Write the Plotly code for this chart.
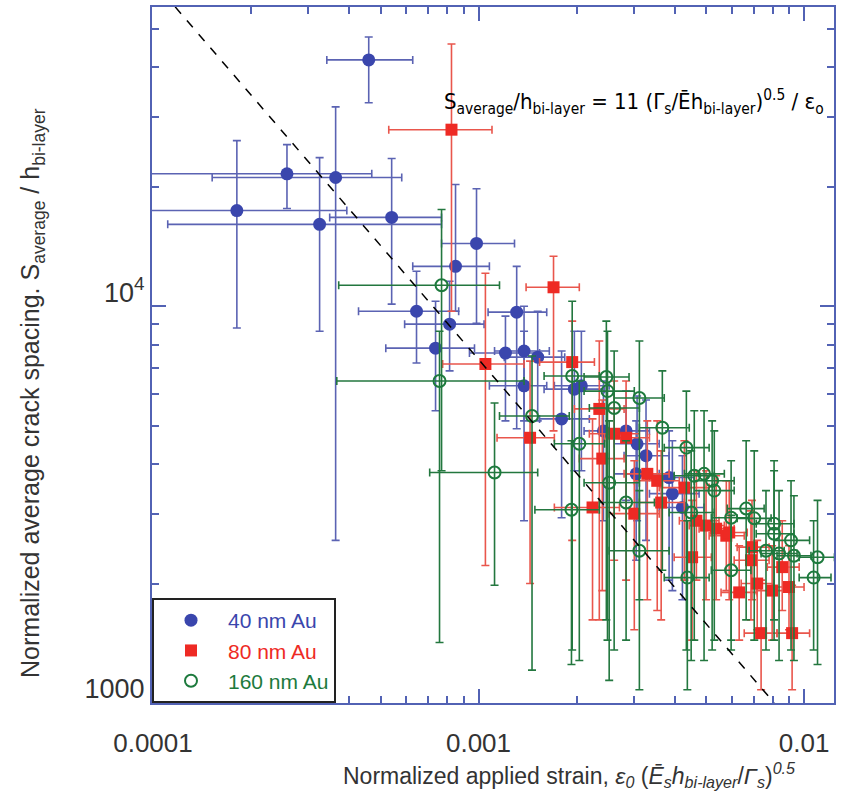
import plotly.graph_objects as go

# ---------------- data ----------------
# 40 nm Au
b_x   = [4.60e-4, 1.81e-4, 2.58e-4, 3.64e-4, 3.25e-4, 5.41e-4, 9.86e-4, 8.50e-4, 6.45e-4, 8.15e-4, 7.38e-4, 1.31e-3, 1.21e-3, 1.38e-3, 1.52e-3, 1.38e-3, 1.80e-3, 1.97e-3, 2.07e-3, 2.42e-3, 2.84e-3, 3.07e-3, 3.27e-3, 3.05e-3, 3.85e-3, 3.94e-3, 4.23e-3]
b_xlo = [3.42e-4, 0.9e-4, 0.9e-4, 1.52e-4, 1.11e-4, 3.49e-4, 7.70e-4, 6.28e-4, 4.28e-4, 5.93e-4, 5.19e-4, 1.07e-3, 9.38e-4, 1.12e-3, 1.20e-3, 1.08e-3, 1.54e-3, 1.59e-3, 1.71e-3, 2.11e-3, 2.44e-3, 2.61e-3, 2.80e-3, 2.61e-3, 3.35e-3, 3.35e-3, 3.59e-3]
b_xhi = [6.28e-4, 3.94e-4, 4.70e-4, 5.81e-4, 7.70e-4, 7.70e-4, 1.29e-3, 1.08e-3, 8.69e-4, 1.04e-3, 9.72e-4, 1.62e-3, 1.54e-3, 1.65e-3, 1.84e-3, 1.62e-3, 2.19e-3, 2.44e-3, 2.52e-3, 2.80e-3, 3.35e-3, 3.59e-3, 3.85e-3, 3.59e-3, 4.60e-3, 4.76e-3, 4.93e-3]
b_y   = [41750, 17420, 21560, 21100, 16080, 16740, 14390, 12600, 9710, 9010, 7840, 9660, 7620, 7710, 7440, 6300, 5200, 6180, 6300, 4850, 4850, 4500, 4200, 3780, 3700, 3370, 3110]
b_ylo = [32550, 8810, 17630, 2570, 8650, 10120, 9060, 9710, 7190, 6870, 5450, 4910, 5140, 5140, 5140, 2880, 2930, 3850, 3850, 2880, 3240, 2880, 2570, 2290, 2040, 1920, 1820]
b_yhi = [47680, 26130, 25530, 31800, 23680, 23560, 19770, 20270, 12250, 11560, 10290, 12600, 9440, 10000, 9710, 8650, 7710, 8650, 8650, 6480, 6110, 5940, 5800, 5140, 4850, 4580, 4200]

# 80 nm Au
r_x   = [8.26e-4, 1.70e-3, 1.05e-3, 1.94e-3, 1.44e-3, 2.35e-3, 2.61e-3, 2.84e-3, 2.40e-3, 3.30e-3, 3.54e-3, 4.29e-3, 3.64e-3, 3.01e-3, 2.24e-3, 4.67e-3, 5.00e-3, 5.37e-3, 5.77e-3, 5.89e-3, 4.53e-3, 6.92e-3, 6.87e-3, 8.57e-3, 6.32e-3, 7.18e-3, 7.98e-3, 8.99e-3, 7.38e-3, 9.19e-3]
r_xlo = [5.30e-4, 1.40e-3, 7.76e-4, 1.54e-3, 1.14e-3, 1.97e-3, 2.19e-3, 2.44e-3, 2.04e-3, 2.80e-3, 3.01e-3, 3.59e-3, 3.12e-3, 2.52e-3, 1.71e-3, 4.14e-3, 4.44e-3, 4.76e-3, 5.11e-3, 5.19e-3, 3.99e-3, 6.23e-3, 6.10e-3, 7.71e-3, 5.56e-3, 6.41e-3, 7.13e-3, 8.09e-3, 6.55e-3, 8.26e-3]
r_xhi = [1.10e-3, 2.04e-3, 1.38e-3, 2.27e-3, 1.71e-3, 2.80e-3, 3.12e-3, 3.35e-3, 2.80e-3, 3.85e-3, 4.14e-3, 5.11e-3, 4.29e-3, 3.59e-3, 2.71e-3, 5.48e-3, 5.69e-3, 6.10e-3, 6.55e-3, 6.69e-3, 5.19e-3, 7.81e-3, 7.81e-3, 9.66e-3, 7.18e-3, 8.09e-3, 8.99e-3, 1.00e-2, 8.26e-3, 1.04e-2]
r_y   = [27850, 11160, 7150, 7230, 4660, 5510, 4770, 4660, 4130, 3780, 3630, 3490, 3200, 3000, 3110, 2880, 2800, 2750, 2640, 2690, 2330, 2470, 2290, 2200, 1900, 2000, 1920, 1960, 1500, 1500]
r_ylo = [9710, 4850, 2220, 2570, 2000, 1620, 2290, 2040, 1920, 1820, 1710, 2040, 1620, 1530, 1620, 2040, 1820, 1820, 1920, 1820, 1440, 1820, 1620, 1710, 1440, 1530, 1440, 1530, 1080, 1080]
r_yhi = [45800, 13360, 12110, 9170, 7270, 8170, 6480, 6480, 5800, 5140, 5140, 4580, 4320, 4080, 5200, 3850, 3850, 3740, 3630, 3630, 3240, 3240, 3050, 2880, 2490, 2570, 2490, 2490, 2040, 1980]

# 160 nm Au
g_x   = [7.70e-4, 7.59e-4, 1.12e-3, 1.46e-3, 1.94e-3, 2.47e-3, 2.49e-3, 2.61e-3, 3.12e-3, 3.67e-3, 2.04e-3, 2.52e-3, 1.93e-3, 2.84e-3, 3.12e-3, 4.35e-3, 4.60e-3, 4.93e-3, 5.22e-3, 5.30e-3, 5.97e-3, 4.50e-3, 5.97e-3, 4.38e-3, 6.64e-3, 7.03e-3, 8.09e-3, 8.09e-3, 7.64e-3, 8.38e-3, 9.12e-3, 9.31e-3, 1.10e-2, 1.07e-2]
g_xlo = [3.72e-4, 3.67e-4, 7.08e-4, 1.16e-3, 1.59e-3, 2.11e-3, 2.11e-3, 2.19e-3, 2.61e-3, 3.12e-3, 1.71e-3, 2.11e-3, 1.49e-3, 2.35e-3, 2.52e-3, 3.72e-3, 3.99e-3, 4.29e-3, 4.60e-3, 4.60e-3, 5.19e-3, 3.85e-3, 5.19e-3, 3.72e-3, 5.81e-3, 6.23e-3, 7.13e-3, 7.13e-3, 6.78e-3, 7.38e-3, 8.09e-3, 8.26e-3, 9.66e-3, 9.66e-3]
g_xhi = [1.16e-3, 1.38e-3, 1.52e-3, 1.90e-3, 2.35e-3, 2.90e-3, 3.01e-3, 3.12e-3, 3.72e-3, 4.44e-3, 2.44e-3, 3.12e-3, 2.35e-3, 3.47e-3, 3.85e-3, 5.11e-3, 5.30e-3, 5.69e-3, 6.10e-3, 6.10e-3, 6.78e-3, 5.30e-3, 6.87e-3, 5.11e-3, 7.54e-3, 7.92e-3, 9.31e-3, 9.31e-3, 8.69e-3, 9.52e-3, 1.04e-2, 1.05e-2, 1.24e-2, 1.21e-2]
g_y   = [11290, 6480, 3810, 5290, 6670, 6630, 6110, 5540, 5870, 4940, 4500, 3590, 3070, 3200, 2420, 4400, 3740, 3780, 3630, 3430, 2930, 3020, 2160, 2070, 3090, 2920, 2830, 2670, 2420, 2380, 2570, 2350, 2330, 2070]
g_ylo = [3850, 1420, 1980, 1210, 1360, 1620, 1440, 1360, 1820, 2160, 1280, 1140, 1250, 1440, 1080, 1360, 1440, 1280, 1360, 1440, 1440, 1280, 1360, 1080, 1620, 1440, 1620, 1440, 1360, 1280, 1360, 1280, 1250, 1360]
g_yhi = [17530, 8650, 5700, 7490, 10290, 9170, 8650, 7710, 8170, 6870, 6480, 5140, 4580, 4580, 3430, 6110, 5450, 5450, 5140, 4850, 4080, 4320, 2970, 2880, 4580, 4320, 4080, 3850, 3430, 3430, 3630, 3330, 3240, 2880]

# dashed guide line (two points)
fit_x = [1.17e-4, 8.1e-3]
fit_y = [56800, 1000]

x_tickvals = [1e-4, 1e-3, 1e-2]
x_ticktext = ["0.0001", "0.001", "0.01"]
y_tickvals = [1000, 10000]
y_ticktext = ["1000", "10<sup>4</sup>"]

series = [
    ("40 nm Au", "#3a46ad", "#5b63b3", "circle", 13, b_x, b_xlo, b_xhi, b_y, b_ylo, b_yhi),
    ("80 nm Au", "#ee2a24", "#e9564c", "square", 12, r_x, r_xlo, r_xhi, r_y, r_ylo, r_yhi),
    ("160 nm Au", "#1d7a3d", "#23773f", "circle-open", 12, g_x, g_xlo, g_xhi, g_y, g_ylo, g_yhi),
]

FONT = "Liberation Sans, Arial, sans-serif"
NARROW = "Liberation Sans Narrow, Arial Narrow, DejaVu Sans Condensed, Liberation Sans, sans-serif"
AXC = "#5262b4"

fig = go.Figure()
for name, mc, bc, sym, sz, x, xlo, xhi, y, ylo, yhi in series:
    fig.add_trace(go.Scatter(
        x=x, y=y, mode="markers",
        name=f"<span style='color:{mc}'>{name}</span>",
        marker=dict(symbol=sym, size=sz, color=mc,
                    line=dict(width=2 if sym == "circle-open" else 0, color=mc)),
        error_x=dict(type="data", symmetric=False,
                     array=[h - v for h, v in zip(xhi, x)],
                     arrayminus=[v - l for v, l in zip(x, xlo)],
                     color=bc, thickness=1.6, width=4),
        error_y=dict(type="data", symmetric=False,
                     array=[h - v for h, v in zip(yhi, y)],
                     arrayminus=[v - l for v, l in zip(y, ylo)],
                     color=bc, thickness=1.6, width=4),
    ))

fig.add_trace(go.Scatter(x=fit_x, y=fit_y, mode="lines", showlegend=False,
                         line=dict(color="black", width=1.5, dash="dash")))

fig.update_layout(
    width=841, height=805,
    margin=dict(l=152, r=6, t=5, b=102),
    paper_bgcolor="white", plot_bgcolor="white",
    font=dict(family=FONT, color="#333"),
    legend=dict(x=0, y=0, xanchor="left", yanchor="bottom",
                bgcolor="white", bordercolor="#222", borderwidth=2,
                font=dict(size=21, family=FONT), tracegroupgap=0,
                itemwidth=64),
    showlegend=True,
)
fig.update_xaxes(
    type="log", range=[-4.003, -1.908],
    tickvals=x_tickvals, ticktext=x_ticktext,
    tickfont=dict(size=26, color="#333"),
    ticks="inside", ticklen=14, tickcolor=AXC, tickwidth=1.5,
    minor=dict(ticks="inside", ticklen=7, tickcolor=AXC, tickwidth=1.5, dtick="D1"),
    showline=True, linecolor=AXC, linewidth=2, mirror="allticks",
    showgrid=False, zeroline=False, ticklabelstandoff=16,
)
fig.update_yaxes(
    type="log", range=[3, 4.754],
    tickvals=y_tickvals, ticktext=y_ticktext,
    tickfont=dict(size=27, color="#333"),
    ticks="inside", ticklen=14, tickcolor=AXC, tickwidth=1.5,
    minor=dict(ticks="inside", ticklen=7, tickcolor=AXC, tickwidth=1.5, dtick="D1"),
    showline=True, linecolor=AXC, linewidth=2, mirror="allticks",
    showgrid=False, zeroline=False, ticklabelshift=-14,
)

fig.add_annotation(
    xref="paper", yref="paper", x=0.612, y=-0.103, xanchor="center", yanchor="middle",
    text="Normalized applied strain, <i>ε<sub>0</sub></i> (<i>Ē<sub>s</sub>h<sub>bi-layer</sub></i>/<i>Γ<sub>s</sub></i>)<sup><i>0.5</i></sup>",
    showarrow=False, font=dict(size=23, family=FONT, color="#333"),
)
fig.add_annotation(
    xref="paper", yref="paper", x=-0.175, y=0.445, xanchor="center", yanchor="middle",
    textangle=-90,
    text="Normalized average crack spacing. S<sub>average</sub> / h<sub>bi-layer</sub>",
    showarrow=False, font=dict(size=25, family=FONT, color="#333"),
)
fig.add_annotation(
    xref="paper", yref="paper", x=0.707, y=0.864, xanchor="center", yanchor="middle",
    text="S<sub>average</sub>/h<sub>bi-layer</sub> = 11 (Γ<sub>s</sub>/Ēh<sub>bi-layer</sub>)<sup>0.5</sup> / ε<sub>o</sub>",
    showarrow=False, font=dict(size=22, family=NARROW, color="black"),
)

fig.write_html("out.html")
